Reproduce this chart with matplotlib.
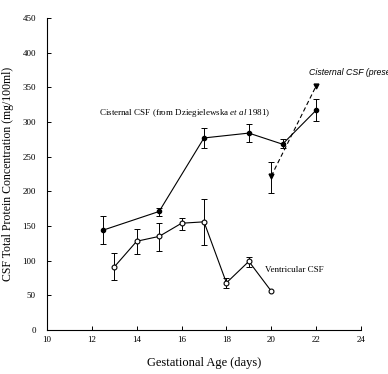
import matplotlib.pyplot as plt

plt.rcParams['font.family'] = ['Liberation Serif', 'DejaVu Serif']
plt.rcParams['mathtext.fontset'] = 'custom'
plt.rcParams['mathtext.rm'] = 'Liberation Serif'
plt.rcParams['mathtext.it'] = 'Liberation Serif:italic'

# Cisternal CSF (Dziegielewska et al 1981) - filled circles
cis_age = [12.5, 15, 17, 19, 20.5, 22]
cis_val = [144, 171, 277, 284, 268, 317]
cis_lo = [124, 165, 262, 271, 262, 302]
cis_hi = [164, 176, 292, 297, 275, 333]

# Cisternal CSF (present study) - triangles, dashed
pres_age = [20, 22]
pres_val = [222, 352]
pres_lo = [198, 352]
pres_hi = [243, 352]

# Ventricular CSF - open circles
ven_age = [13, 14, 15, 16, 17, 18, 19, 20]
ven_val = [91, 128, 135, 154, 156, 68, 99, 56]
ven_lo = [72, 110, 114, 144, 123, 61, 91, 56]
ven_hi = [111, 146, 155, 162, 189, 75, 106, 56]


def bars(ax, age, val, lo, hi):
    # only draw error bars where there is a spread
    keep = [i for i in range(len(age)) if hi[i] > lo[i]]
    x = [age[i] for i in keep]
    y = [val[i] for i in keep]
    yerr = [[val[i] - lo[i] for i in keep], [hi[i] - val[i] for i in keep]]
    ax.errorbar(x, y, yerr=yerr, fmt='none', ecolor='black', elinewidth=0.7,
                capsize=2, capthick=0.7, zorder=2)


fig = plt.figure(figsize=(3.88, 3.74), dpi=100)
ax = fig.add_axes([47 / 388, 44 / 374, 314 / 388, 312 / 374])

bars(ax, cis_age, cis_val, cis_lo, cis_hi)
ax.plot(cis_age, cis_val, color='black', marker='o', ms=3, lw=0.8, zorder=3)

bars(ax, pres_age, pres_val, pres_lo, pres_hi)
ax.plot(pres_age, pres_val, color='black', marker='v', ms=3.5, lw=0.8,
        ls=(0, (4, 2.5)), zorder=3)

bars(ax, ven_age, ven_val, ven_lo, ven_hi)
ax.plot(ven_age, ven_val, color='black', marker='o', ms=3.5, mfc='white', mew=0.8,
        lw=0.8, zorder=3)

ax.text(12.3, 313, 'Cisternal CSF (from Dziegielewska $\\mathit{et\\ al}$ 1981)',
        fontsize=6.5, va='center')
ax.text(21.68, 372, 'Cisternal CSF (present study)', fontsize=6.3, style='italic',
        family=['Liberation Sans'], va='center', clip_on=False)
ax.text(19.72, 87, 'Ventricular CSF', fontsize=6.5, va='center')

ax.set_xlim(10, 24)
ax.set_ylim(0, 450)
ax.set_xticks(range(10, 25, 2))
ax.set_yticks(range(0, 451, 50))
ax.tick_params(direction='in', length=3, width=0.7, labelsize=6.5)
ax.tick_params(axis='x', pad=4)
ax.tick_params(axis='y', pad=8)
for s in ['top', 'right']:
    ax.spines[s].set_visible(False)
for s in ['left', 'bottom']:
    ax.spines[s].set_linewidth(0.8)

ax.set_xlabel('Gestational Age (days)', fontsize=9, labelpad=10)
ax.set_ylabel('CSF Total Protein Concentration (mg/100ml)', fontsize=8.5, labelpad=6)

fig.savefig('out.png', dpi=100)
